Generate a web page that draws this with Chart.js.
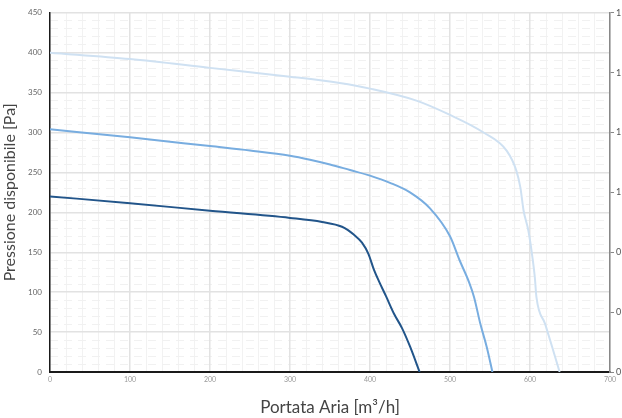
<!DOCTYPE html>
<html>
<head>
<meta charset="utf-8">
<script src="https://cdn.jsdelivr.net/npm/chart.js@4"></script>
<style>
  body { margin: 0; background: #fff; }
  #wrap { width: 622px; height: 418px; }
</style>
</head>
<body>
<div id="wrap"><canvas id="curve"></canvas></div>
<script>
// curve values: portata [m3/h] vs pressione [Pa]
const darkX  = [0, 100, 200, 300, 340, 365, 380, 390, 398, 405, 412, 420, 430, 440, 450, 462];
const darkY  = [220, 211.5, 202, 193, 188, 182, 172, 162, 148, 128, 112, 95, 73, 55, 32, 0];

const midX   = [0, 100, 200, 250, 300, 325, 350, 375, 400, 425, 450, 475, 500, 512, 524, 530, 538, 546, 553];
const midY   = [304, 294, 283, 277.5, 271, 266, 260, 253, 246, 237, 225, 205, 170, 140, 112, 94, 60, 31, 0];

const lightX = [0, 100, 200, 300, 362, 400, 458, 498, 542, 571, 583, 588, 592, 598, 603, 606, 608, 619, 629, 637];
const lightY = [400, 392, 381, 370, 362, 355, 340, 323, 300, 277, 252, 231, 202, 177, 144, 119, 94, 60, 27, 0];

const rightTickLabels = ['0', '0', '0', '1', '1', '1', '1'];

const toPoints = (xs, ys) => xs.map((x, i) => ({ x: x, y: ys[i] }));

const line = (label, xs, ys, color) => ({
    label: label,
    data: toPoints(xs, ys),
    borderColor: color,
    borderWidth: 2,
    pointRadius: 0,
    fill: false,
    cubicInterpolationMode: 'monotone',
    xAxisID: 'x',
    yAxisID: 'y'
});

const font = 'Lato, "DejaVu Sans", sans-serif';

const config = {
    type: 'line',
    data: {
        datasets: [
            line('C', lightX, lightY, '#cfe1f2'),
            line('B', midX, midY, '#78ade0'),
            line('A', darkX, darkY, '#22558a')
        ]
    },
    options: {
        responsive: true,
        maintainAspectRatio: false,
        animation: false,
        layout: { padding: { top: 12, left: 0, right: 0, bottom: 0 } },
        plugins: {
            legend: { display: false },
            tooltip: { enabled: false }
        },
        scales: {
            xMinor: {
                type: 'linear', position: 'bottom', min: 0, max: 700,
                ticks: { display: false, stepSize: 20 },
                grid: {
                    drawTicks: false,
                    color: c => (c.tick.value % 100 === 0 ? 'rgba(0,0,0,0)' : '#f2f2f2'),
                    lineWidth: 1
                },
                border: { display: false },
                afterFit: s => { s.height = 0; }
            },
            yMinor: {
                type: 'linear', position: 'left', min: 0, max: 450,
                ticks: { display: false, stepSize: 10 },
                grid: {
                    drawTicks: false,
                    color: c => (c.tick.value % 50 === 0 ? 'rgba(0,0,0,0)' : '#f1f1f1'),
                    lineWidth: 1
                },
                border: { display: false, dash: [8, 6] },
                afterFit: s => { s.width = 0; }
            },
            x: {
                type: 'linear', position: 'bottom', min: 0, max: 700,
                ticks: { stepSize: 100, font: { family: font, size: 7 }, color: '#999', padding: 4 },
                grid: { drawTicks: false, color: '#e2e2e2', lineWidth: 1.5 },
                border: { color: '#1a1a1a', width: 2 },
                title: {
                    display: true,
                    text: 'Portata Aria [m³/h]',
                    font: { family: font, size: 17 },
                    color: '#444',
                    padding: { top: 4, bottom: 0 }
                },
                afterFit: s => { s.height = 46; }
            },
            y: {
                type: 'linear', position: 'left', min: 0, max: 450,
                ticks: { stepSize: 50, font: { family: font, size: 8 }, color: '#666', padding: 8 },
                grid: { drawTicks: false, color: '#e2e2e2', lineWidth: 1.5 },
                border: { color: '#1a1a1a', width: 1.5 },
                title: {
                    display: true,
                    text: 'Pressione disponibile [Pa]',
                    font: { family: font, size: 16 },
                    color: '#444',
                    padding: { top: 0, bottom: 2 }
                },
                afterFit: s => { s.width = 50; }
            },
            y2: {
                type: 'linear', position: 'right', min: 0, max: 6,
                ticks: {
                    stepSize: 1,
                    font: { family: font, size: 9 },
                    color: '#555',
                    padding: 2,
                    callback: v => rightTickLabels[v]
                },
                grid: { drawOnChartArea: false, drawTicks: true, tickLength: 4, color: '#888' },
                border: { color: '#888', width: 1.5 },
                afterFit: s => { s.width = 12; }
            }
        }
    }
};

new Chart(document.getElementById('curve'), config);
</script>
</body>
</html>
